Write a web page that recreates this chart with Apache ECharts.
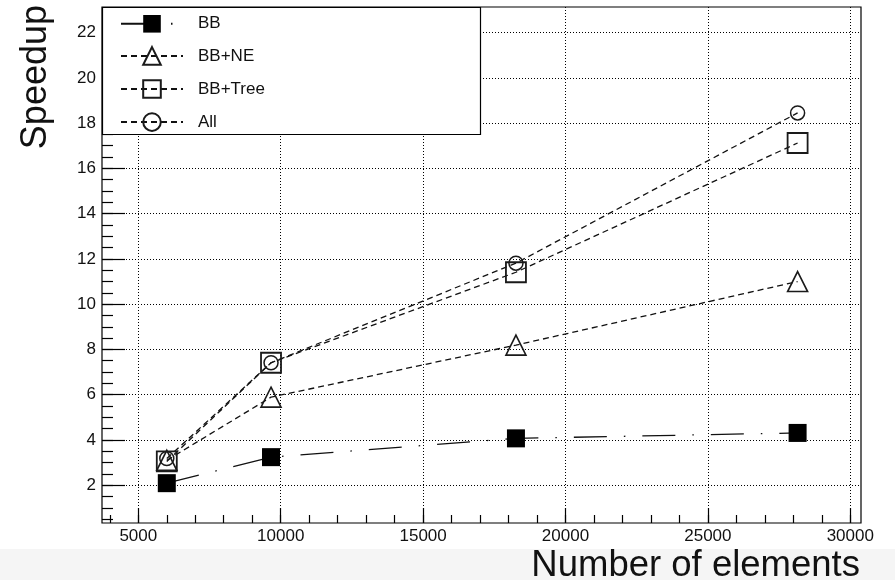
<!DOCTYPE html>
<html><head><meta charset="utf-8">
<script src="https://cdn.jsdelivr.net/npm/echarts@6/dist/echarts.min.js"></script>
<style>html,body{margin:0;padding:0;background:#fff}#c{width:895px;height:580px}</style>
</head><body><div id="c"></div>
<script>
// ---- data ----
const elements = [6000, 9660, 18260, 28150];
const bb = [2.09, 3.24, 4.07, 4.31];
const bbNE = [3.1, 5.89, 8.19, 11.0];
const bbTree = [3.05, 7.41, 11.41, 17.12];
const all = [3.18, 7.41, 11.81, 18.45];
const seriesNames = ['BB', 'BB+NE', 'BB+Tree', 'All'];
const xMajorTicks = [5000, 10000, 15000, 20000, 25000, 30000];
const yMajorTicks = [2, 4, 6, 8, 10, 12, 14, 16, 18, 20, 22];
const xTitle = 'Number of elements';
const yTitle = 'Speedup';

const X_MIN = 3725, X_MAX = 30376, Y_MIN = 0.33, Y_MAX = 23.13;
const xMinorTicks = []; for (let v = 4000; v <= 30000; v += 1000) xMinorTicks.push(v);
const yMinorTicks = []; for (let v = 0.5; v <= 23; v += 0.5) yMinorTicks.push(v);

const FONT = "'Liberation Sans', Arial, Helvetica, sans-serif";
const INK = '#111';
const LINE = '#111';
const pairs = ys => elements.map((x, i) => [x, ys[i]]);
const dotted = { color: '#000', width: 1, type: [1, 2] };

const chart = echarts.init(document.getElementById('c'), null, { renderer: 'canvas' });
chart.setOption({
  animation: false,
  backgroundColor: '#fff',
  grid: { left: 102, top: 7, right: 34, bottom: 57, show: true, borderColor: '#000', borderWidth: 1.2, backgroundColor: 'transparent', containLabel: false },
  xAxis: [
    { type: 'value', min: X_MIN, max: X_MAX, position: 'bottom',
      axisLine: { show: false },
      axisTick: { show: true, inside: true, length: 15, customValues: xMajorTicks, lineStyle: { color: '#000', width: 1.2 } },
      axisLabel: { show: true, customValues: xMajorTicks, margin: 5, color: INK, fontSize: 17, fontFamily: FONT, formatter: v => String(v) },
      splitLine: { show: true, lineStyle: dotted } },
    { type: 'value', min: X_MIN, max: X_MAX, position: 'bottom',
      axisLine: { show: false },
      axisTick: { show: true, inside: true, length: 8, customValues: xMinorTicks, lineStyle: { color: '#000', width: 1.2 } },
      axisLabel: { show: false }, splitLine: { show: false } }
  ],
  yAxis: [
    { type: 'value', min: Y_MIN, max: Y_MAX, position: 'left',
      axisLine: { show: false },
      axisTick: { show: true, inside: true, length: 23, customValues: yMajorTicks, lineStyle: { color: '#000', width: 1.2 } },
      axisLabel: { show: true, customValues: yMajorTicks, margin: 6, color: INK, fontSize: 17, fontFamily: FONT },
      splitLine: { show: true, lineStyle: dotted } },
    { type: 'value', min: Y_MIN, max: Y_MAX, position: 'left',
      axisLine: { show: false },
      axisTick: { show: true, inside: true, length: 11, customValues: yMinorTicks, lineStyle: { color: '#000', width: 1.2 } },
      axisLabel: { show: false }, splitLine: { show: false } }
  ],
  legend: {
    data: seriesNames, orient: 'vertical', left: 115, top: 10, z: 10,
    itemWidth: 62, itemHeight: 22, itemGap: 13.5, selectedMode: false,
    textStyle: { fontSize: 17, fontFamily: FONT, color: INK, padding: [0, 0, 0, 10] }
  },
  graphic: [
    { type: 'rect', z: -1, silent: true, shape: { x: 0, y: 549, width: 895, height: 31 },
      style: { fill: '#f5f5f5' } },
    { type: 'rect', z: 8, shape: { x: 102.5, y: 7.5, width: 378, height: 127 },
      style: { fill: '#fff', stroke: '#000', lineWidth: 1.2 } },
    { type: 'text', z: 8, x: 36, y: 5, rotation: Math.PI / 2,
      style: { text: yTitle, fontSize: 36, fontFamily: FONT, fill: INK, align: 'right', verticalAlign: 'middle' } },
    { type: 'text', z: 8, x: 860, y: 566,
      style: { text: xTitle, fontSize: 36.5, fontFamily: FONT, fill: INK, align: 'right', verticalAlign: 'middle' } }
  ],
  series: [
    { name: 'BB', type: 'line', data: pairs(bb), symbol: 'rect', symbolSize: 18,
      itemStyle: { color: '#000' },
      lineStyle: { color: LINE, width: 1.3, type: [33, 17, 1.5, 17] } },
    { name: 'BB+NE', type: 'line', data: pairs(bbNE), symbol: 'triangle', symbolSize: 20,
      itemStyle: { color: 'rgba(255,255,255,0)', borderColor: '#1a1a1a', borderWidth: 1.6 },
      lineStyle: { color: LINE, width: 1.3, type: [6, 4] } },
    { name: 'BB+Tree', type: 'line', data: pairs(bbTree), symbol: 'rect', symbolSize: 20,
      itemStyle: { color: 'rgba(255,255,255,0)', borderColor: '#1a1a1a', borderWidth: 1.8 },
      lineStyle: { color: LINE, width: 1.3, type: [6, 4] } },
    { name: 'All', type: 'line', data: pairs(all), symbol: 'circle', symbolSize: 14,
      itemStyle: { color: 'rgba(255,255,255,0)', borderColor: '#1a1a1a', borderWidth: 1.5 },
      lineStyle: { color: LINE, width: 1.3, type: [6, 4] } }
  ]
});
</script></body></html>
